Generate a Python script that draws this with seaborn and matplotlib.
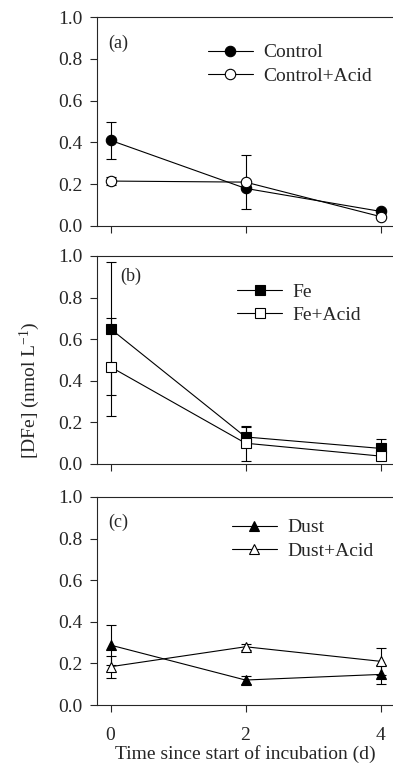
import pandas as pd
import matplotlib
matplotlib.use('Agg')
import matplotlib.pyplot as plt
import seaborn as sns

# data
days = [0, 2, 4]

control = [0.41, 0.18, 0.07]
control_err = [0.09, 0.0, 0.0]
control_acid = [0.215, 0.21, 0.045]
control_acid_err = [0.02, 0.13, 0.0]

fe = [0.65, 0.13, 0.075]
fe_err = [0.32, 0.05, 0.043]
fe_acid = [0.467, 0.10, 0.038]
fe_acid_err = [0.235, 0.085, 0.0]

dust = [0.288, 0.12, 0.147]
dust_err = [0.096, 0.02, 0.045]
dust_acid = [0.184, 0.28, 0.21]
dust_acid_err = [0.052, 0.015, 0.065]

sns.set_style('ticks')
plt.rcParams['font.family'] = ['Liberation Serif', 'DejaVu Serif']
plt.rcParams['mathtext.default'] = 'regular'

fig = plt.figure(figsize=(3.93, 7.63), dpi=100)
left, width = 97 / 393, 297 / 393
boxes = [(17, 226), (256, 464), (497, 705)]
axes = [fig.add_axes([left, 1 - b / 763, width, (b - t) / 763]) for t, b in boxes]

panels = [
    ('(a)', 'o', [('Control', control, control_err, 'black'),
                  ('Control+Acid', control_acid, control_acid_err, 'white')],
     (0.037, 0.876), (0.374, 0.872)),
    ('(b)', 's', [('Fe', fe, fe_err, 'black'),
                  ('Fe+Acid', fe_acid, fe_acid_err, 'white')],
     (0.077, 0.90), (0.472, 0.870)),
    ('(c)', '^', [('Dust', dust, dust_err, 'black'),
                  ('Dust+Acid', dust_acid, dust_acid_err, 'white')],
     (0.037, 0.88), (0.455, 0.895)),
]

for ax, (tag, mk, series, tag_pos, leg_pos) in zip(axes, panels):
    for name, vals, errs, fc in series:
        df = pd.DataFrame({'day': days, 'val': vals})
        ax.errorbar(days, vals, yerr=errs, fmt='none', ecolor='black',
                    elinewidth=0.8, capsize=3.5, capthick=0.8, zorder=1)
        sns.lineplot(data=df, x='day', y='val', ax=ax, label=name,
                     color='black', lw=0.8, marker=mk, markersize=7.5,
                     markerfacecolor=fc, markeredgecolor='black',
                     markeredgewidth=0.8, zorder=2)
    ax.set_xlim(-0.2, 4.2)
    ax.set_ylim(0, 1.0)
    ax.set_xticks(days)
    ax.set_yticks([0.0, 0.2, 0.4, 0.6, 0.8, 1.0])
    ax.set_yticklabels(['0.0', '0.2', '0.4', '0.6', '0.8', '1.0'])
    ax.set_xlabel('')
    ax.set_ylabel('')
    ax.spines['right'].set_visible(False)
    for s in ['left', 'bottom', 'top']:
        ax.spines[s].set_linewidth(0.8)
    ax.tick_params(direction='out', length=5, width=0.8, labelsize=14)
    ax.tick_params(axis='y', pad=5.5)
    ax.text(tag_pos[0], tag_pos[1], tag, transform=ax.transAxes,
            fontsize=13, va='center', ha='left')
    ax.legend(loc='upper left', bbox_to_anchor=leg_pos, frameon=False,
              fontsize=14, handlelength=2.3, handletextpad=0.55,
              borderpad=0, borderaxespad=0, labelspacing=0.3)

axes[0].set_xticklabels([])
axes[1].set_xticklabels([])
axes[2].set_xticklabels(['0', '2', '4'])
axes[2].tick_params(axis='x', pad=11)

fig.text(30 / 393, 1 - 390 / 763, '[DFe] (nmol L$^{-1}$)', rotation=90,
         ha='center', va='center', fontsize=14)
fig.text(245 / 393, 1 - 754 / 763, 'Time since start of incubation (d)',
         ha='center', va='center', fontsize=14)

fig.savefig('out.png', dpi=100)
